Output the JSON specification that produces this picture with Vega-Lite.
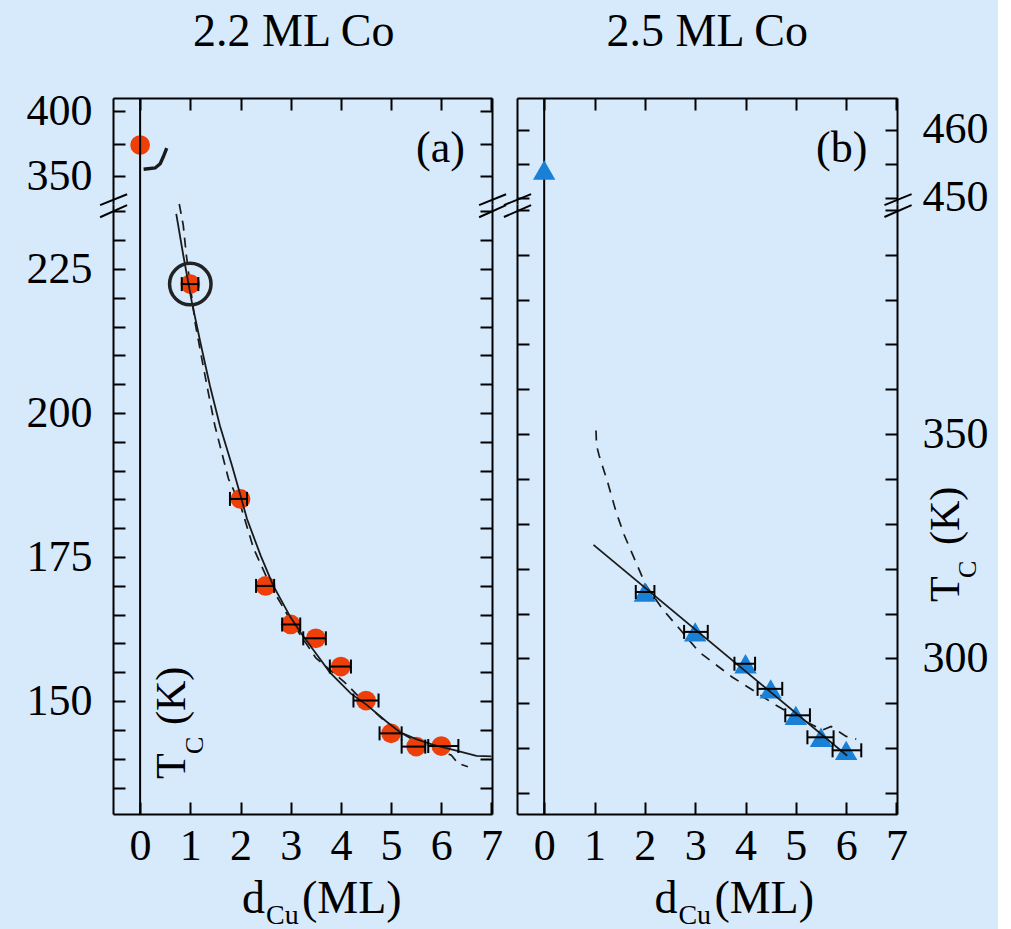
{
  "$schema": "https://vega.github.io/schema/vega-lite/v6.json",
  "background": "#d6eafc",
  "padding": {"left": 26, "top": 8, "right": 10, "bottom": 0},
  "config": {
    "view": {"stroke": null},
    "font": "Liberation Serif",
    "axis": {"grid": false, "domainColor": "#000", "domainWidth": 2, "tickColor": "#000", "tickWidth": 2, "tickSize": -12, "labelFont": "Liberation Serif", "labelFontSize": 44, "labelColor": "#000", "labelFlush": false, "labelOverlap": false, "labelPadding": 33},
    "axisBottom": {"labelPadding": 22},
    "axisRight": {"labelPadding": 37}
  },
  "datasets": {
    "one": [{"k": 1}],
    "a_top": [{"x": 0, "y": 373.8}],
    "a_hook": [{"x": 0.07, "y": 355.2}, {"x": 0.3, "y": 356.2}, {"x": 0.4, "y": 359.5}, {"x": 0.46, "y": 364.6}, {"x": 0.53, "y": 371.5}],
    "a_pts": [
      {"x": 1, "y": 222.4, "lo": 0.83, "hi": 1.16},
      {"x": 2, "y": 185.1, "lo": 1.79, "hi": 2.13},
      {"x": 2.5, "y": 170.0, "lo": 2.31, "hi": 2.67},
      {"x": 3, "y": 163.3, "lo": 2.83, "hi": 3.19},
      {"x": 3.5, "y": 160.9, "lo": 3.25, "hi": 3.7},
      {"x": 4, "y": 156.0, "lo": 3.78, "hi": 4.2},
      {"x": 4.5, "y": 150.1, "lo": 4.25, "hi": 4.75},
      {"x": 5, "y": 144.4, "lo": 4.77, "hi": 5.21},
      {"x": 5.5, "y": 142.1, "lo": 5.21, "hi": 5.68},
      {"x": 6, "y": 142.2, "lo": 5.74, "hi": 6.34}
    ],
    "a_fit": [{"x": 0.72, "y": 234.6}, {"x": 0.86, "y": 227.4}, {"x": 1.03, "y": 219.3}, {"x": 1.2, "y": 212.3}, {"x": 1.39, "y": 204.8}, {"x": 1.59, "y": 197.8}, {"x": 1.83, "y": 190.9}, {"x": 1.99, "y": 186.0}, {"x": 2.13, "y": 181.6}, {"x": 2.4, "y": 175.3}, {"x": 2.65, "y": 170.1}, {"x": 3.0, "y": 164.5}, {"x": 3.19, "y": 162.0}, {"x": 3.5, "y": 158.3}, {"x": 3.78, "y": 155.0}, {"x": 4.2, "y": 151.3}, {"x": 4.52, "y": 149.3}, {"x": 4.9, "y": 146.5}, {"x": 5.18, "y": 144.6}, {"x": 5.5, "y": 143.4}, {"x": 5.84, "y": 142.4}, {"x": 6.3, "y": 141.4}, {"x": 6.7, "y": 140.5}, {"x": 7.0, "y": 140.4}],
    "a_dash": [{"x": 0.78, "y": 236.3}, {"x": 0.86, "y": 232.6}, {"x": 0.92, "y": 227.5}, {"x": 1.0, "y": 222.0}, {"x": 1.1, "y": 215.5}, {"x": 1.23, "y": 209.4}, {"x": 1.36, "y": 203.5}, {"x": 1.49, "y": 197.8}, {"x": 1.76, "y": 188.6}, {"x": 2.0, "y": 184.0}, {"x": 2.26, "y": 176.5}, {"x": 2.6, "y": 170.0}, {"x": 3.0, "y": 164.0}, {"x": 3.5, "y": 157.5}, {"x": 4.07, "y": 153.3}, {"x": 4.5, "y": 149.5}, {"x": 5.0, "y": 145.5}, {"x": 5.5, "y": 143.0}, {"x": 5.98, "y": 141.4}, {"x": 6.2, "y": 140.6}, {"x": 6.33, "y": 139.2}, {"x": 6.53, "y": 138.6}],
    "a_breaks": [
      {"x1": -0.797, "x2": -0.259, "y1": 236.1, "y2": 238.0},
      {"x1": -0.797, "x2": -0.259, "y1": 234.0, "y2": 236.1},
      {"x1": 6.753, "x2": 7.291, "y1": 236.1, "y2": 238.0},
      {"x1": 6.753, "x2": 7.291, "y1": 234.0, "y2": 236.1}
    ],
    "b_top": [{"x": 0, "y": 454.1}],
    "b_pts": [
      {"x": 2, "y": 314.8, "lo": 1.82, "hi": 2.19},
      {"x": 3, "y": 305.9, "lo": 2.78, "hi": 3.25},
      {"x": 4, "y": 298.8, "lo": 3.78, "hi": 4.19},
      {"x": 4.5, "y": 293.2, "lo": 4.24, "hi": 4.73},
      {"x": 5, "y": 287.3, "lo": 4.79, "hi": 5.28},
      {"x": 5.5, "y": 282.4, "lo": 5.23, "hi": 5.75},
      {"x": 6, "y": 279.5, "lo": 5.73, "hi": 6.3}
    ],
    "b_fit": [{"x": 0.98, "y": 325.3}, {"x": 6.02, "y": 278.3}],
    "b_dash": [{"x": 1.03, "y": 350.8}, {"x": 1.04, "y": 347.5}, {"x": 1.09, "y": 345.3}, {"x": 1.26, "y": 339.3}, {"x": 1.43, "y": 332.6}, {"x": 1.59, "y": 327.5}, {"x": 1.82, "y": 321.5}, {"x": 2.02, "y": 316.3}, {"x": 2.35, "y": 311.0}, {"x": 2.68, "y": 306.7}, {"x": 3.08, "y": 301.4}, {"x": 3.34, "y": 299.2}, {"x": 3.74, "y": 295.8}, {"x": 4.2, "y": 292.5}, {"x": 4.6, "y": 289.6}, {"x": 5.07, "y": 286.6}, {"x": 5.53, "y": 284.0}, {"x": 5.7, "y": 284.8}, {"x": 6.0, "y": 282.6}, {"x": 6.2, "y": 282.0}],
    "b_breaks": [
      {"x1": -0.8, "x2": -0.26, "y1": 401.05, "y2": 403.5},
      {"x1": -0.8, "x2": -0.26, "y1": 398.4, "y2": 401.05},
      {"x1": 6.76, "x2": 7.3, "y1": 401.05, "y2": 403.5},
      {"x1": 6.76, "x2": 7.3, "y1": 398.4, "y2": 401.05}
    ]
  },
  "concat": [
    {
      "width": 379, "height": 106,
      "layer": [
        {"data": {"name": "a_hook"}, "mark": {"type": "line", "color": "#1a1a1a", "strokeWidth": 3.4},
         "encoding": {"x": {"field": "x", "type": "quantitative", "scale": {"domain": [-0.54, 7.01], "nice": false, "zero": false}, "axis": null},
                      "y": {"field": "y", "type": "quantitative", "scale": {"domain": [328.5, 410], "nice": false, "zero": false}, "axis": {"orient": "right", "values": [350, 375, 400], "labels": false, "title": null}}}},
        {"data": {"name": "a_top"}, "mark": {"type": "point", "shape": "circle", "filled": true, "size": 390, "color": "#ee3f0b", "opacity": 1},
         "encoding": {"x": {"field": "x", "type": "quantitative", "scale": {"domain": [-0.54, 7.01], "nice": false, "zero": false}, "axis": null},
                      "y": {"field": "y", "type": "quantitative", "scale": {"domain": [328.5, 410], "nice": false, "zero": false}, "axis": {"orient": "left", "values": [350, 375, 400], "labelExpr": "datum.value == 375 ? '' : datum.label", "title": null}}}},
        {"data": {"name": "one"}, "mark": {"type": "rule", "color": "#000", "strokeWidth": 2},
         "encoding": {"x": {"datum": 0, "type": "quantitative", "scale": {"domain": [-0.54, 7.01], "nice": false, "zero": false}, "axis": {"orient": "top", "values": [0, 1, 2, 3, 4, 5, 6, 7], "labels": false, "title": null}}}},
        {"data": {"name": "one"}, "mark": {"type": "text", "text": "2.2 ML Co", "fontSize": 46, "font": "Liberation Serif", "align": "center", "baseline": "alphabetic", "color": "#000"},
         "encoding": {"x": {"datum": 3.06, "type": "quantitative", "scale": {"domain": [-0.54, 7.01], "nice": false, "zero": false}, "axis": null},
                      "y": {"datum": 450, "type": "quantitative", "scale": {"domain": [328.5, 410], "nice": false, "zero": false}, "axis": null}}},
        {"data": {"name": "one"}, "mark": {"type": "text", "text": "(a)", "fontSize": 44, "font": "Liberation Serif", "align": "right", "baseline": "alphabetic", "color": "#000"},
         "encoding": {"x": {"datum": 6.47, "type": "quantitative", "scale": {"domain": [-0.54, 7.01], "nice": false, "zero": false}, "axis": null},
                      "y": {"datum": 360.8, "type": "quantitative", "scale": {"domain": [328.5, 410], "nice": false, "zero": false}, "axis": null}}}
      ],
      "resolve": {"axis": {"x": "independent", "y": "independent"}}
    },
    {
      "width": 380, "height": 106,
      "layer": [
        {"data": {"name": "one"}, "mark": {"type": "rule", "color": "#000", "strokeWidth": 2},
         "encoding": {"x": {"datum": 0, "type": "quantitative", "scale": {"domain": [-0.54, 7.01], "nice": false, "zero": false}, "axis": {"orient": "top", "values": [0, 1, 2, 3, 4, 5, 6, 7], "labels": false, "title": null}}}},
        {"data": {"name": "b_top"}, "mark": {"type": "point", "shape": "triangle-up", "filled": true, "size": 500, "color": "#1a80d6", "opacity": 1},
         "encoding": {"x": {"field": "x", "type": "quantitative", "scale": {"domain": [-0.54, 7.01], "nice": false, "zero": false}, "axis": null},
                      "y": {"field": "y", "type": "quantitative", "scale": {"domain": [449.1, 464.7], "nice": false, "zero": false}, "axis": {"orient": "right", "values": [450, 455, 460], "labelExpr": "datum.value == 455 ? '' : datum.label", "title": null}}}},
        {"data": {"name": "b_top"}, "mark": {"type": "point", "opacity": 0},
         "encoding": {"x": {"field": "x", "type": "quantitative", "scale": {"domain": [-0.54, 7.01], "nice": false, "zero": false}, "axis": null},
                      "y": {"field": "y", "type": "quantitative", "scale": {"domain": [449.1, 464.7], "nice": false, "zero": false}, "axis": {"orient": "left", "values": [450, 455, 460], "labels": false, "title": null}}}},
        {"data": {"name": "one"}, "mark": {"type": "text", "text": "2.5 ML Co", "fontSize": 46, "font": "Liberation Serif", "align": "center", "baseline": "alphabetic", "color": "#000"},
         "encoding": {"x": {"datum": 3.24, "type": "quantitative", "scale": {"domain": [-0.54, 7.01], "nice": false, "zero": false}, "axis": null},
                      "y": {"datum": 472.4, "type": "quantitative", "scale": {"domain": [449.1, 464.7], "nice": false, "zero": false}, "axis": null}}},
        {"data": {"name": "one"}, "mark": {"type": "text", "text": "(b)", "fontSize": 44, "font": "Liberation Serif", "align": "right", "baseline": "alphabetic", "color": "#000"},
         "encoding": {"x": {"datum": 6.42, "type": "quantitative", "scale": {"domain": [-0.54, 7.01], "nice": false, "zero": false}, "axis": null},
                      "y": {"datum": 455.3, "type": "quantitative", "scale": {"domain": [449.1, 464.7], "nice": false, "zero": false}, "axis": null}}}
      ],
      "resolve": {"axis": {"x": "independent", "y": "independent"}}
    },
    {
      "width": 379, "height": 610,
      "layer": [
        {"data": {"name": "a_dash"}, "mark": {"type": "line", "color": "#1a1a1a", "strokeWidth": 1.7, "strokeDash": [10, 7]},
         "encoding": {"x": {"field": "x", "type": "quantitative", "scale": {"domain": [-0.54, 7.01], "nice": false, "zero": false}, "axis": null},
                      "y": {"field": "y", "type": "quantitative", "scale": {"domain": [130.4, 236.3], "nice": false, "zero": false}, "axis": {"orient": "right", "values": [135, 140, 145, 150, 155, 160, 165, 170, 175, 180, 185, 190, 195, 200, 205, 210, 215, 220, 225, 230, 235], "labels": false, "title": null}}}},
        {"data": {"name": "a_pts"}, "mark": {"type": "point", "shape": "circle", "filled": true, "size": 390, "color": "#ee3f0b", "opacity": 1},
         "encoding": {"x": {"field": "x", "type": "quantitative", "scale": {"domain": [-0.54, 7.01], "nice": false, "zero": false}, "axis": null},
                      "y": {"field": "y", "type": "quantitative", "scale": {"domain": [130.4, 236.3], "nice": false, "zero": false}, "axis": {"orient": "left", "values": [135, 140, 145, 150, 155, 160, 165, 170, 175, 180, 185, 190, 195, 200, 205, 210, 215, 220, 225, 230, 235], "labelExpr": "datum.value % 25 == 0 ? datum.label : ''", "title": null}}}},
        {"data": {"name": "a_fit"}, "mark": {"type": "line", "color": "#1a1a1a", "strokeWidth": 1.8},
         "encoding": {"x": {"field": "x", "type": "quantitative", "scale": {"domain": [-0.54, 7.01], "nice": false, "zero": false}, "axis": null},
                      "y": {"field": "y", "type": "quantitative", "scale": {"domain": [130.4, 236.3], "nice": false, "zero": false}, "axis": null}}},
        {"data": {"name": "a_pts"}, "mark": {"type": "errorbar", "ticks": {"size": 14, "thickness": 2, "color": "#000", "opacity": 1}, "rule": {"strokeWidth": 2, "color": "#000", "opacity": 1}},
         "encoding": {"x": {"field": "lo", "type": "quantitative", "scale": {"domain": [-0.54, 7.01], "nice": false, "zero": false}, "axis": null},
                      "x2": {"field": "hi"},
                      "y": {"field": "y", "type": "quantitative", "scale": {"domain": [130.4, 236.3], "nice": false, "zero": false}, "axis": null}}},
        {"data": {"name": "a_pts"}, "transform": [{"filter": "datum.x == 1"}], "mark": {"type": "point", "shape": "circle", "filled": false, "size": 1720, "strokeWidth": 3.5, "color": "#222", "opacity": 1},
         "encoding": {"x": {"field": "x", "type": "quantitative", "scale": {"domain": [-0.54, 7.01], "nice": false, "zero": false}, "axis": null},
                      "y": {"field": "y", "type": "quantitative", "scale": {"domain": [130.4, 236.3], "nice": false, "zero": false}, "axis": null}}},
        {"data": {"name": "one"}, "mark": {"type": "rule", "color": "#000", "strokeWidth": 2},
         "encoding": {"x": {"datum": 0, "type": "quantitative", "scale": {"domain": [-0.54, 7.01], "nice": false, "zero": false}, "axis": {"orient": "bottom", "values": [0, 1, 2, 3, 4, 5, 6, 7], "title": null}}}},
        {"data": {"name": "a_breaks"}, "mark": {"type": "rule", "color": "#000", "strokeWidth": 2},
         "encoding": {"x": {"field": "x1", "type": "quantitative", "scale": {"domain": [-0.54, 7.01], "nice": false, "zero": false}, "axis": null}, "x2": {"field": "x2"},
                      "y": {"field": "y1", "type": "quantitative", "scale": {"domain": [130.4, 236.3], "nice": false, "zero": false}, "axis": null}, "y2": {"field": "y2"}}},
        {"data": {"name": "one"}, "mark": {"type": "text", "text": "T", "fontSize": 42, "font": "Liberation Serif", "align": "left", "baseline": "alphabetic", "angle": 270, "color": "#000"},
         "encoding": {"x": {"datum": 0.896, "type": "quantitative", "scale": {"domain": [-0.54, 7.01], "nice": false, "zero": false}, "axis": null},
                      "y": {"datum": 136.46, "type": "quantitative", "scale": {"domain": [130.4, 236.3], "nice": false, "zero": false}, "axis": null}}},
        {"data": {"name": "one"}, "mark": {"type": "text", "text": "C", "fontSize": 26, "font": "Liberation Serif", "align": "left", "baseline": "alphabetic", "angle": 270, "dx": 25, "dy": 18, "color": "#000"},
         "encoding": {"x": {"datum": 0.896, "type": "quantitative", "scale": {"domain": [-0.54, 7.01], "nice": false, "zero": false}, "axis": null},
                      "y": {"datum": 136.46, "type": "quantitative", "scale": {"domain": [130.4, 236.3], "nice": false, "zero": false}, "axis": null}}},
        {"data": {"name": "one"}, "mark": {"type": "text", "text": "(K)", "fontSize": 42, "font": "Liberation Serif", "align": "left", "baseline": "alphabetic", "angle": 270, "dx": 54, "color": "#000"},
         "encoding": {"x": {"datum": 0.896, "type": "quantitative", "scale": {"domain": [-0.54, 7.01], "nice": false, "zero": false}, "axis": null},
                      "y": {"datum": 136.46, "type": "quantitative", "scale": {"domain": [130.4, 236.3], "nice": false, "zero": false}, "axis": null}}},
        {"data": {"name": "one"}, "mark": {"type": "text", "text": "d", "fontSize": 46, "font": "Liberation Serif", "align": "left", "baseline": "alphabetic", "color": "#000"},
         "encoding": {"x": {"datum": 2.03, "type": "quantitative", "scale": {"domain": [-0.54, 7.01], "nice": false, "zero": false}, "axis": null},
                      "y": {"datum": 113.2, "type": "quantitative", "scale": {"domain": [130.4, 236.3], "nice": false, "zero": false}, "axis": null}}},
        {"data": {"name": "one"}, "mark": {"type": "text", "text": "Cu", "fontSize": 28, "font": "Liberation Serif", "align": "left", "baseline": "alphabetic", "dx": 24, "dy": 11, "color": "#000"},
         "encoding": {"x": {"datum": 2.03, "type": "quantitative", "scale": {"domain": [-0.54, 7.01], "nice": false, "zero": false}, "axis": null},
                      "y": {"datum": 113.2, "type": "quantitative", "scale": {"domain": [130.4, 236.3], "nice": false, "zero": false}, "axis": null}}},
        {"data": {"name": "one"}, "mark": {"type": "text", "text": "(ML)", "fontSize": 46, "font": "Liberation Serif", "align": "left", "baseline": "alphabetic", "dx": 60, "color": "#000"},
         "encoding": {"x": {"datum": 2.03, "type": "quantitative", "scale": {"domain": [-0.54, 7.01], "nice": false, "zero": false}, "axis": null},
                      "y": {"datum": 113.2, "type": "quantitative", "scale": {"domain": [130.4, 236.3], "nice": false, "zero": false}, "axis": null}}}
      ],
      "resolve": {"axis": {"x": "independent", "y": "independent"}}
    },
    {
      "width": 380, "height": 610,
      "layer": [
        {"data": {"name": "b_dash"}, "mark": {"type": "line", "color": "#1a1a1a", "strokeWidth": 1.7, "strokeDash": [10, 8]},
         "encoding": {"x": {"field": "x", "type": "quantitative", "scale": {"domain": [-0.54, 7.01], "nice": false, "zero": false}, "axis": null},
                      "y": {"field": "y", "type": "quantitative", "scale": {"domain": [265.3, 401.3], "nice": false, "zero": false}, "axis": {"orient": "left", "values": [270, 280, 290, 300, 310, 320, 330, 340, 350, 360, 370, 380, 390, 400], "labels": false, "title": null}}}},
        {"data": {"name": "one"}, "mark": {"type": "rule", "color": "#000", "strokeWidth": 2},
         "encoding": {"x": {"datum": 0, "type": "quantitative", "scale": {"domain": [-0.54, 7.01], "nice": false, "zero": false}, "axis": {"orient": "bottom", "values": [0, 1, 2, 3, 4, 5, 6, 7], "title": null}}}},
        {"data": {"name": "b_pts"}, "mark": {"type": "point", "shape": "triangle-up", "filled": true, "size": 500, "color": "#1a80d6", "opacity": 1},
         "encoding": {"x": {"field": "x", "type": "quantitative", "scale": {"domain": [-0.54, 7.01], "nice": false, "zero": false}, "axis": null},
                      "y": {"field": "y", "type": "quantitative", "scale": {"domain": [265.3, 401.3], "nice": false, "zero": false}, "axis": {"orient": "right", "values": [270, 280, 290, 300, 310, 320, 330, 340, 350, 360, 370, 380, 390, 400], "labelExpr": "datum.value == 300 || datum.value == 350 ? datum.label : ''", "title": null}}}},
        {"data": {"name": "b_fit"}, "mark": {"type": "line", "color": "#1a1a1a", "strokeWidth": 1.8},
         "encoding": {"x": {"field": "x", "type": "quantitative", "scale": {"domain": [-0.54, 7.01], "nice": false, "zero": false}, "axis": null},
                      "y": {"field": "y", "type": "quantitative", "scale": {"domain": [265.3, 401.3], "nice": false, "zero": false}, "axis": null}}},
        {"data": {"name": "b_pts"}, "mark": {"type": "errorbar", "ticks": {"size": 14, "thickness": 2, "color": "#000", "opacity": 1}, "rule": {"strokeWidth": 2, "color": "#000", "opacity": 1}},
         "encoding": {"x": {"field": "lo", "type": "quantitative", "scale": {"domain": [-0.54, 7.01], "nice": false, "zero": false}, "axis": null},
                      "x2": {"field": "hi"},
                      "y": {"field": "y", "type": "quantitative", "scale": {"domain": [265.3, 401.3], "nice": false, "zero": false}, "axis": null}}},
        {"data": {"name": "b_breaks"}, "mark": {"type": "rule", "color": "#000", "strokeWidth": 2},
         "encoding": {"x": {"field": "x1", "type": "quantitative", "scale": {"domain": [-0.54, 7.01], "nice": false, "zero": false}, "axis": null}, "x2": {"field": "x2"},
                      "y": {"field": "y1", "type": "quantitative", "scale": {"domain": [265.3, 401.3], "nice": false, "zero": false}, "axis": null}, "y2": {"field": "y2"}}},
        {"data": {"name": "one"}, "mark": {"type": "text", "text": "T", "fontSize": 42, "font": "Liberation Serif", "align": "left", "baseline": "alphabetic", "angle": 270, "color": "#000"},
         "encoding": {"x": {"datum": 8.25, "type": "quantitative", "scale": {"domain": [-0.54, 7.01], "nice": false, "zero": false}, "axis": null},
                      "y": {"datum": 312.55, "type": "quantitative", "scale": {"domain": [265.3, 401.3], "nice": false, "zero": false}, "axis": null}}},
        {"data": {"name": "one"}, "mark": {"type": "text", "text": "C", "fontSize": 26, "font": "Liberation Serif", "align": "left", "baseline": "alphabetic", "angle": 270, "dx": 24, "dy": 17, "color": "#000"},
         "encoding": {"x": {"datum": 8.25, "type": "quantitative", "scale": {"domain": [-0.54, 7.01], "nice": false, "zero": false}, "axis": null},
                      "y": {"datum": 312.55, "type": "quantitative", "scale": {"domain": [265.3, 401.3], "nice": false, "zero": false}, "axis": null}}},
        {"data": {"name": "one"}, "mark": {"type": "text", "text": "(K)", "fontSize": 42, "font": "Liberation Serif", "align": "left", "baseline": "alphabetic", "angle": 270, "dx": 57, "color": "#000"},
         "encoding": {"x": {"datum": 8.25, "type": "quantitative", "scale": {"domain": [-0.54, 7.01], "nice": false, "zero": false}, "axis": null},
                      "y": {"datum": 312.55, "type": "quantitative", "scale": {"domain": [265.3, 401.3], "nice": false, "zero": false}, "axis": null}}},
        {"data": {"name": "one"}, "mark": {"type": "text", "text": "d", "fontSize": 46, "font": "Liberation Serif", "align": "left", "baseline": "alphabetic", "color": "#000"},
         "encoding": {"x": {"datum": 2.19, "type": "quantitative", "scale": {"domain": [-0.54, 7.01], "nice": false, "zero": false}, "axis": null},
                      "y": {"datum": 243.3, "type": "quantitative", "scale": {"domain": [265.3, 401.3], "nice": false, "zero": false}, "axis": null}}},
        {"data": {"name": "one"}, "mark": {"type": "text", "text": "Cu", "fontSize": 28, "font": "Liberation Serif", "align": "left", "baseline": "alphabetic", "dx": 24, "dy": 11, "color": "#000"},
         "encoding": {"x": {"datum": 2.19, "type": "quantitative", "scale": {"domain": [-0.54, 7.01], "nice": false, "zero": false}, "axis": null},
                      "y": {"datum": 243.3, "type": "quantitative", "scale": {"domain": [265.3, 401.3], "nice": false, "zero": false}, "axis": null}}},
        {"data": {"name": "one"}, "mark": {"type": "text", "text": "(ML)", "fontSize": 46, "font": "Liberation Serif", "align": "left", "baseline": "alphabetic", "dx": 60, "color": "#000"},
         "encoding": {"x": {"datum": 2.19, "type": "quantitative", "scale": {"domain": [-0.54, 7.01], "nice": false, "zero": false}, "axis": null},
                      "y": {"datum": 243.3, "type": "quantitative", "scale": {"domain": [265.3, 401.3], "nice": false, "zero": false}, "axis": null}}}
      ],
      "resolve": {"axis": {"x": "independent", "y": "independent"}}
    }
  ],
  "columns": 2,
  "spacing": {"row": 0, "column": 25},
  "bounds": "flush"
}
